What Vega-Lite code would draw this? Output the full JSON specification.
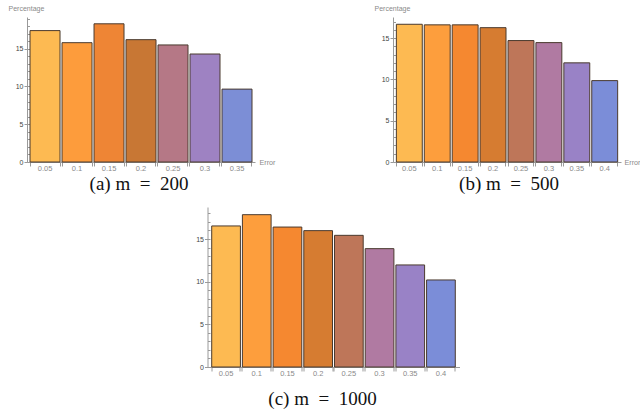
{
  "$schema": "https://vega.github.io/schema/vega-lite/v6.json",
  "background": "white",
  "padding": {"left": 8, "top": 4, "right": 0, "bottom": 0},
  "config": {
    "view": {"stroke": null},
    "font": "Liberation Sans",
    "axis": {"grid": false, "domainColor": "#9a9a9a", "tickColor": "#9a9a9a", "labelFont": "Liberation Sans", "titleFont": "Liberation Sans"}
  },
  "center": true,
  "spacing": 13,
  "resolve": {"scale": {"color": "independent"}},
  "vconcat": [
    {
      "bounds": "flush",
      "spacing": 138,
      "resolve": {"scale": {"color": "independent"}},
      "hconcat": [
        {
          "width": 228,
          "height": 145,
          "data": {"values": [
            {"error": "0.05", "pct": 17.4},
            {"error": "0.1", "pct": 15.8},
            {"error": "0.15", "pct": 18.3},
            {"error": "0.2", "pct": 16.2},
            {"error": "0.25", "pct": 15.5},
            {"error": "0.3", "pct": 14.3},
            {"error": "0.35", "pct": 9.65}
          ]},
          "title": {"text": "(a) m\u2002=\u2002200", "orient": "bottom", "font": "Liberation Serif", "fontSize": 19, "fontWeight": "normal", "color": "#111", "offset": 3, "dx": -2},
          "resolve": {"axis": {"x": "independent", "y": "independent"}},
          "layer": [
            {
              "mark": {"type": "bar", "stroke": "#4a3a2e", "strokeWidth": 1},
              "encoding": {
                "x": {"field": "error", "type": "ordinal", "sort": null,
                  "scale": {"paddingInner": 0.0625, "paddingOuter": 0.094},
                  "axis": {"orient": "bottom", "ticks": false, "labelAngle": 0, "labelFontSize": 7.5, "labelColor": "#8a8a8a", "labelPadding": 2,
                    "title": "Error", "titleX": 232, "titleY": 0, "titleAlign": "left", "titleBaseline": "middle", "titleFontSize": 7.2, "titleFontWeight": "normal", "titleColor": "#8a8a8a"}},
                "y": {"field": "pct", "type": "quantitative",
                  "scale": {"domain": [0, 19.2], "nice": false, "zero": true},
                  "axis": {"orient": "left", "values": [0, 5, 10, 15], "tickSize": 3, "labelFontSize": 7, "labelColor": "#444", "labelPadding": 1,
                    "title": "Percentage", "titleAngle": 0, "titleX": -19, "titleY": -7, "titleAlign": "left", "titleBaseline": "alphabetic", "titleFontSize": 7, "titleFontWeight": "normal", "titleColor": "#8a8a8a"}},
                "color": {"field": "error", "type": "ordinal", "sort": null, "legend": null,
                  "scale": {"range": ["#fdba52", "#fd9c3c", "#ee8535", "#c87734", "#b57886", "#9e82c2", "#7c8ed6"]}}
              }
            },
            {
              "mark": {"type": "bar", "opacity": 0},
              "encoding": {
                "x": {"field": "error", "type": "ordinal", "sort": null,
                  "axis": {"orient": "bottom", "bandPosition": 0, "labels": false, "domain": false, "tickSize": 4, "title": null}},
                "y": {"field": "pct", "type": "quantitative",
                  "axis": {"orient": "left", "values": [1,2,3,4,6,7,8,9,11,12,13,14,16,17,18,19], "labels": false, "domain": false, "tickSize": -2.5, "title": null}}
              }
            },
            {
              "mark": {"type": "bar", "opacity": 0},
              "encoding": {
                "x": {"field": "error", "type": "ordinal", "sort": null,
                  "axis": {"orient": "bottom", "bandPosition": 1, "labels": false, "domain": false, "tickSize": 4, "title": null}},
                "y": {"field": "pct", "type": "quantitative",
                  "axis": {"orient": "left", "values": [0, 5, 10, 15], "labels": false, "domain": false, "tickSize": -2.5, "title": null}}
              }
            }
          ]
        },
        {
          "width": 228,
          "height": 145,
          "data": {"values": [
            {"error": "0.05", "pct": 16.67},
            {"error": "0.1", "pct": 16.6},
            {"error": "0.15", "pct": 16.6},
            {"error": "0.2", "pct": 16.26},
            {"error": "0.25", "pct": 14.7},
            {"error": "0.3", "pct": 14.45},
            {"error": "0.35", "pct": 12.0},
            {"error": "0.4", "pct": 9.85}
          ]},
          "title": {"text": "(b) m\u2002=\u2002500", "orient": "bottom", "font": "Liberation Serif", "fontSize": 19, "fontWeight": "normal", "color": "#111", "offset": 3, "dx": 2},
          "resolve": {"axis": {"x": "independent", "y": "independent"}},
          "layer": [
            {
              "mark": {"type": "bar", "stroke": "#4a3a2e", "strokeWidth": 1},
              "encoding": {
                "x": {"field": "error", "type": "ordinal", "sort": null,
                  "scale": {"paddingInner": 0.072, "paddingOuter": 0.12},
                  "axis": {"orient": "bottom", "ticks": false, "labelAngle": 0, "labelFontSize": 7.5, "labelColor": "#8a8a8a", "labelPadding": 2,
                    "title": "Error", "titleX": 231, "titleY": 0, "titleAlign": "left", "titleBaseline": "middle", "titleFontSize": 7.2, "titleFontWeight": "normal", "titleColor": "#8a8a8a"}},
                "y": {"field": "pct", "type": "quantitative",
                  "scale": {"domain": [0, 17.55], "nice": false, "zero": true},
                  "axis": {"orient": "left", "values": [0, 5, 10, 15], "tickSize": 3, "labelFontSize": 7, "labelColor": "#444", "labelPadding": 1,
                    "title": "Percentage", "titleAngle": 0, "titleX": -19, "titleY": -7, "titleAlign": "left", "titleBaseline": "alphabetic", "titleFontSize": 7, "titleFontWeight": "normal", "titleColor": "#8a8a8a"}},
                "color": {"field": "error", "type": "ordinal", "sort": null, "legend": null,
                  "scale": {"range": ["#fdba52", "#fd9e3d", "#f58830", "#d67c31", "#be7659", "#b07aa2", "#9982c6", "#7b8dd8"]}}
              }
            },
            {
              "mark": {"type": "bar", "opacity": 0},
              "encoding": {
                "x": {"field": "error", "type": "ordinal", "sort": null,
                  "axis": {"orient": "bottom", "bandPosition": 0, "labels": false, "domain": false, "tickSize": 4, "title": null}},
                "y": {"field": "pct", "type": "quantitative",
                  "axis": {"orient": "left", "values": [1,2,3,4,6,7,8,9,11,12,13,14,16,17], "labels": false, "domain": false, "tickSize": -2.5, "title": null}}
              }
            },
            {
              "mark": {"type": "bar", "opacity": 0},
              "encoding": {
                "x": {"field": "error", "type": "ordinal", "sort": null,
                  "axis": {"orient": "bottom", "bandPosition": 1, "labels": false, "domain": false, "tickSize": 4, "title": null}},
                "y": {"field": "pct", "type": "quantitative",
                  "axis": {"orient": "left", "values": [0, 5, 10, 15], "labels": false, "domain": false, "tickSize": -2.5, "title": null}}
              }
            }
          ]
        }
      ]
    },
    {
      "width": 252,
      "height": 160,
      "data": {"values": [
        {"error": "0.05", "pct": 16.53},
        {"error": "0.1", "pct": 17.85},
        {"error": "0.15", "pct": 16.4},
        {"error": "0.2", "pct": 15.98},
        {"error": "0.25", "pct": 15.43},
        {"error": "0.3", "pct": 13.87},
        {"error": "0.35", "pct": 11.96},
        {"error": "0.4", "pct": 10.2}
      ]},
      "title": {"text": "(c) m\u2002=\u20021000", "orient": "bottom", "font": "Liberation Serif", "fontSize": 19, "fontWeight": "normal", "color": "#111", "offset": 13, "dx": -11},
      "resolve": {"axis": {"x": "independent", "y": "independent"}},
      "layer": [
        {
          "mark": {"type": "bar", "stroke": "#4a3a2e", "strokeWidth": 1},
          "encoding": {
            "x": {"field": "error", "type": "ordinal", "sort": null,
              "scale": {"paddingInner": 0.065, "paddingOuter": 0.137},
              "axis": {"orient": "bottom", "ticks": false, "labelAngle": 0, "labelFontSize": 7.5, "labelColor": "#8a8a8a", "labelPadding": 2, "title": null}},
            "y": {"field": "pct", "type": "quantitative",
              "scale": {"domain": [0, 18.75], "nice": false, "zero": true},
              "axis": {"orient": "left", "values": [0, 5, 10, 15], "tickSize": 3, "labelFontSize": 7, "labelColor": "#444", "labelPadding": 1, "title": null}},
            "color": {"field": "error", "type": "ordinal", "sort": null, "legend": null,
              "scale": {"range": ["#fdba52", "#fd9e3d", "#f58830", "#d67c31", "#be7659", "#b07aa2", "#9982c6", "#7b8dd8"]}}
          }
        },
        {
          "mark": {"type": "bar", "opacity": 0},
          "encoding": {
            "x": {"field": "error", "type": "ordinal", "sort": null,
              "axis": {"orient": "bottom", "bandPosition": 0, "labels": false, "domain": false, "tickSize": 4, "title": null}},
            "y": {"field": "pct", "type": "quantitative",
              "axis": {"orient": "left", "values": [1,2,3,4,6,7,8,9,11,12,13,14,16,17,18], "labels": false, "domain": false, "tickSize": -2.5, "title": null}}
          }
        },
        {
          "mark": {"type": "bar", "opacity": 0},
          "encoding": {
            "x": {"field": "error", "type": "ordinal", "sort": null,
              "axis": {"orient": "bottom", "bandPosition": 1, "labels": false, "domain": false, "tickSize": 4, "title": null}},
            "y": {"field": "pct", "type": "quantitative",
              "axis": {"orient": "left", "values": [0, 5, 10, 15], "labels": false, "domain": false, "tickSize": -2.5, "title": null}}
          }
        }
      ]
    }
  ]
}
